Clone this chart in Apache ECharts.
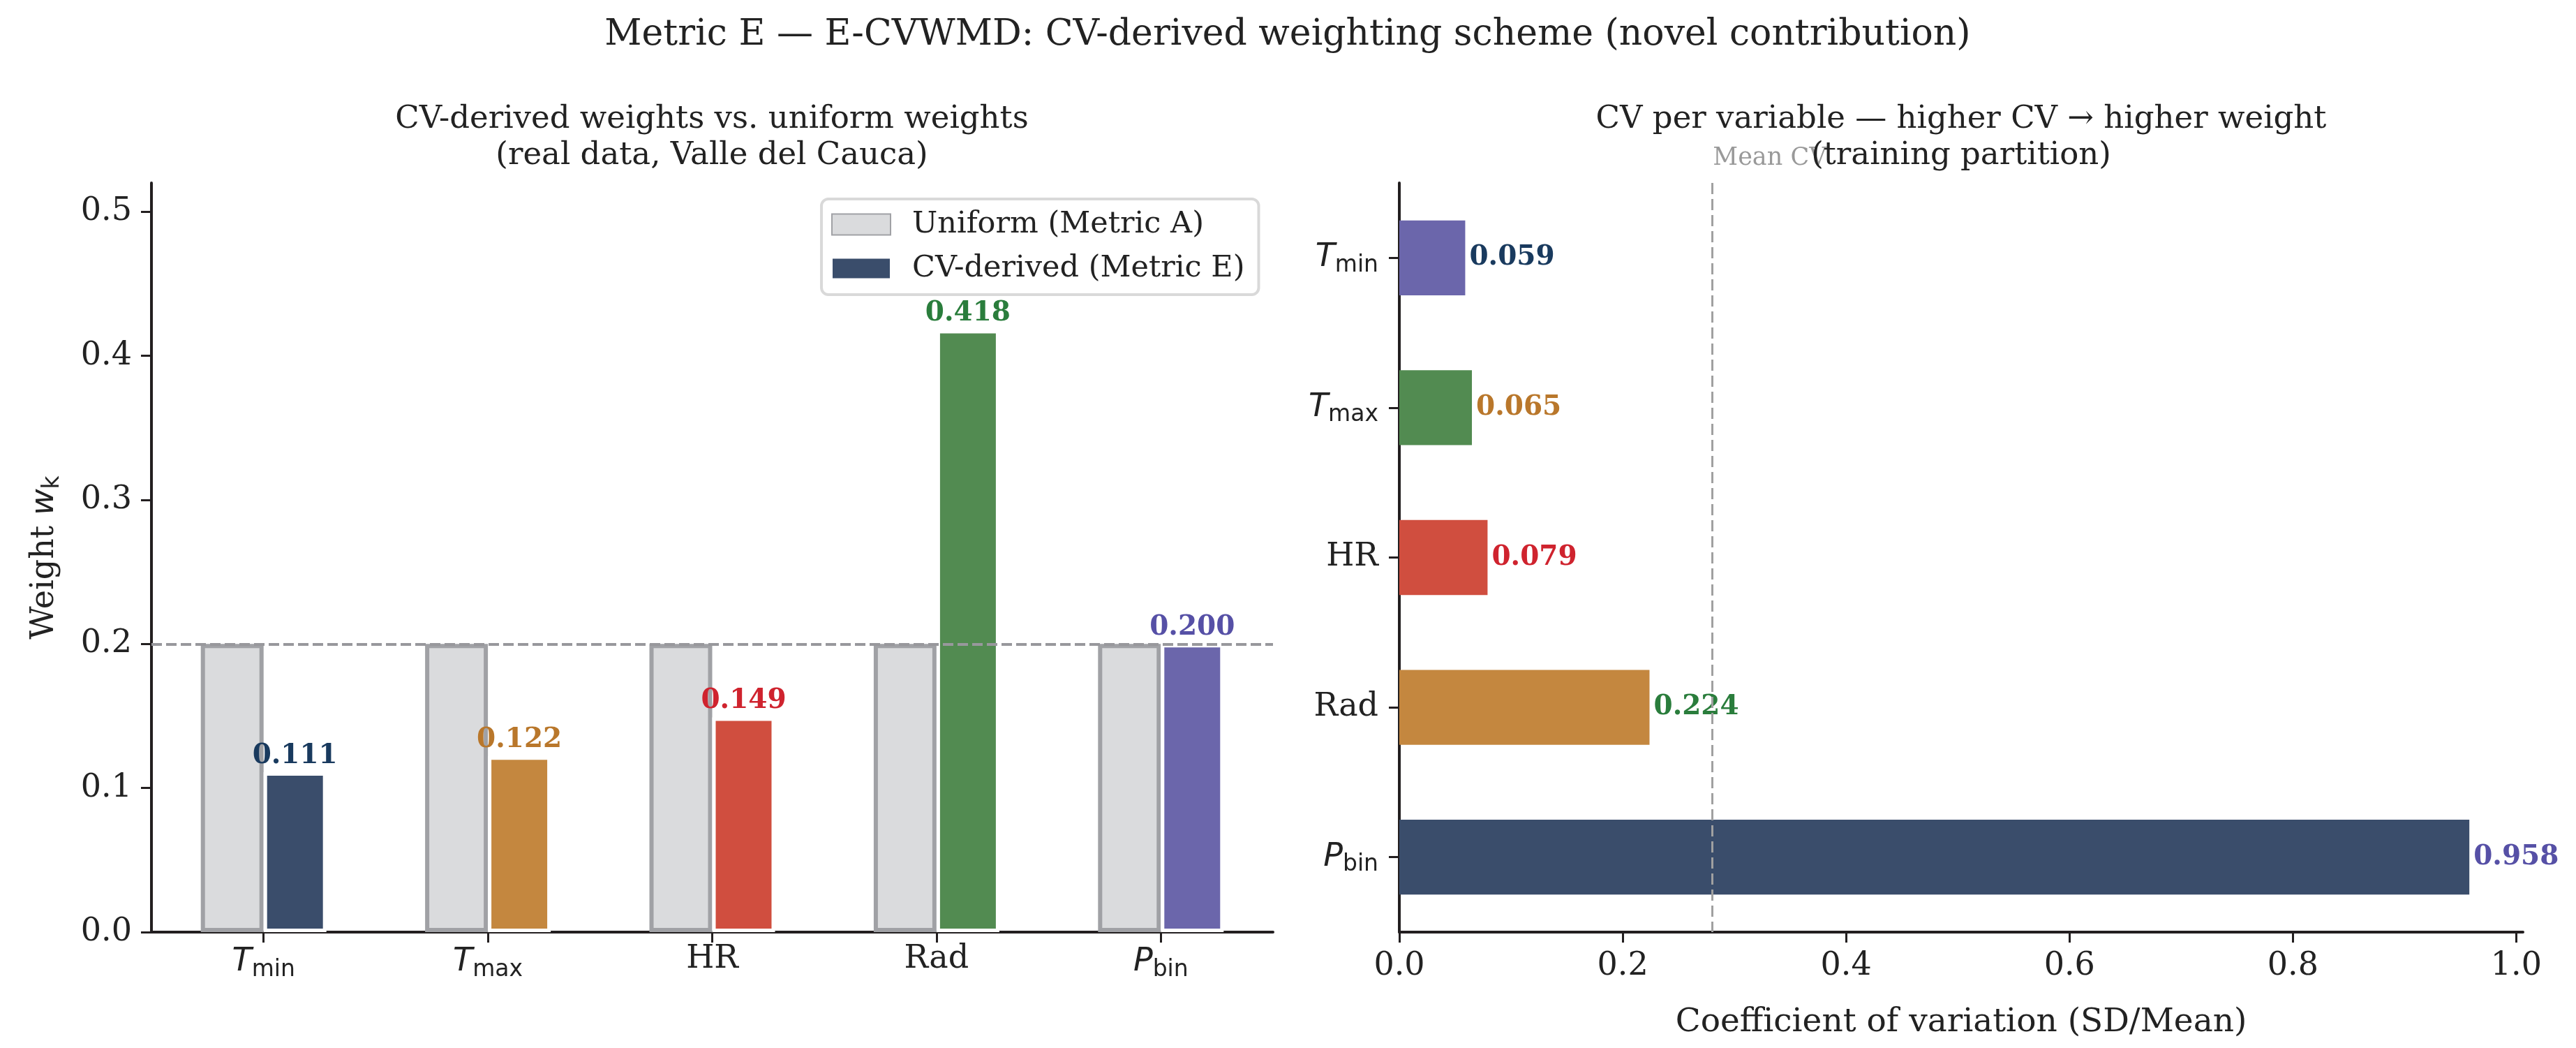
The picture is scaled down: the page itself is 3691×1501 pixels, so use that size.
<!DOCTYPE html>
<html>
<head>
<meta charset="utf-8">
<script src="https://cdn.jsdelivr.net/npm/echarts@6/dist/echarts.min.js"></script>
<style>
  html, body { margin: 0; padding: 0; background: #fff; }
  #chart { width: 3691px; height: 1501px; }
</style>
</head>
<body>
<div id="chart"></div>
<script>
// variables (T_min -> T with subscript min)
const categories = ['T_min', 'T_max', 'HR', 'Rad', 'P_bin'];
// left panel: weights
const uniformWeights = [0.2, 0.2, 0.2, 0.2, 0.2];
const cvWeights = [0.111, 0.122, 0.149, 0.418, 0.200];
const weightTicks = [0, 0.1, 0.2, 0.3, 0.4, 0.5];
const uniformLevel = 0.2;
// right panel: coefficient of variation
const cvValues = [0.059, 0.065, 0.079, 0.224, 0.958];
const cvTicks = [0, 0.2, 0.4, 0.6, 0.8, 1.0];

const weightBarColors = ['#3a4d6b', '#c4873f', '#d04e3f', '#528b51', '#6b66ab'];
const cvBarColors = ['#6b66ab', '#528b51', '#d04e3f', '#c4873f', '#3a4d6b'];
const valueLabelColors = ['#193a5e', '#b9772b', '#cf232e', '#2a7d3c', '#5650a6'];

const SERIF = '"DejaVu Serif", serif';
const SANS = '"DejaVu Sans", sans-serif';
const INK = '#222222';
const AXIS = '#231f20';

const meanCV = cvValues.reduce((a, b) => a + b, 0) / cvValues.length;

// rich text for the math-style variable names
const mathRich = {
  it: { fontFamily: SANS, fontStyle: 'italic', fontSize: 46, color: INK },
  sub: { fontFamily: SANS, fontSize: 33, color: INK, padding: [22, 0, 0, 0] },
  rm: { fontFamily: SERIF, fontSize: 46, color: INK }
};
function mathLabel(name) {
  const parts = name.split('_');
  if (parts.length === 2) return '{it|' + parts[0] + '}{sub|' + parts[1] + '}';
  return '{rm|' + name + '}';
}

const axisLineStyle = { show: true, lineStyle: { color: AXIS, width: 4 } };
const axisTickStyle = { show: true, length: 15, lineStyle: { color: AXIS, width: 3 } };
const tickFont = { fontFamily: SERIF, fontSize: 46, color: INK };

const chart = echarts.init(document.getElementById('chart'));

chart.setOption({
  backgroundColor: '#ffffff',
  animation: false,
  grid: [
    { left: 217, top: 262, width: 1607, height: 1073 },
    { left: 2005, top: 262, width: 1610, height: 1073 }
  ],
  legend: {
    data: ['Uniform (Metric A)', 'CV-derived (Metric E)'],
    orient: 'vertical',
    left: 1177,
    top: 285,
    icon: 'rect',
    itemWidth: 84,
    itemHeight: 30,
    itemGap: 20,
    padding: [15, 20, 16, 14],
    backgroundColor: '#ffffff',
    borderColor: '#d9d9d9',
    borderWidth: 4,
    borderRadius: 10,
    textStyle: { fontFamily: SERIF, fontSize: 43, color: INK, padding: [0, 0, 0, 26] }
  },
  xAxis: [
    {
      type: 'category',
      gridIndex: 0,
      data: categories,
      axisLine: axisLineStyle,
      axisTick: Object.assign({ alignWithLabel: true }, axisTickStyle),
      axisLabel: { margin: 16, formatter: mathLabel, rich: mathRich },
      splitLine: { show: false }
    },
    {
      type: 'value',
      gridIndex: 1,
      min: 0,
      max: 1.006,
      axisLine: axisLineStyle,
      axisTick: Object.assign({ customValues: cvTicks }, axisTickStyle),
      axisLabel: Object.assign({ margin: 26, customValues: cvTicks, formatter: v => v.toFixed(1) }, tickFont),
      splitLine: { show: false },
      name: 'Coefficient of variation (SD/Mean)',
      nameLocation: 'middle',
      nameGap: 106,
      nameTextStyle: { fontFamily: SERIF, fontSize: 47, color: INK }
    }
  ],
  yAxis: [
    {
      type: 'value',
      gridIndex: 0,
      min: 0,
      max: 0.52,
      axisLine: axisLineStyle,
      axisTick: Object.assign({ customValues: weightTicks }, axisTickStyle),
      axisLabel: Object.assign({ margin: 28, customValues: weightTicks, formatter: v => v.toFixed(1) }, tickFont),
      splitLine: { show: false },
      name: '{rm|Weight }{it|w}{sub|k}',
      nameLocation: 'middle',
      nameRotate: 90,
      nameGap: 125,
      nameTextStyle: { rich: mathRich }
    },
    {
      type: 'category',
      gridIndex: 1,
      inverse: true,
      data: categories,
      axisLine: axisLineStyle,
      axisTick: Object.assign({ alignWithLabel: true }, axisTickStyle),
      axisLabel: { margin: 30, formatter: mathLabel, rich: mathRich },
      splitLine: { show: false }
    }
  ],
  series: [
    {
      name: 'Uniform (Metric A)',
      type: 'bar',
      xAxisIndex: 0,
      yAxisIndex: 0,
      z: 1,
      data: uniformWeights,
      barWidth: '28%',
      barGap: '0%',
      itemStyle: { color: '#dadbdd', borderColor: '#a0a1a5', borderWidth: 6 },
      markLine: {
        silent: true,
        symbol: 'none',
        label: { show: false },
        lineStyle: { color: '#98989c', width: 4, type: [15, 6] },
        data: [{ yAxis: uniformLevel }]
      }
    },
    {
      name: 'CV-derived (Metric E)',
      type: 'bar',
      xAxisIndex: 0,
      yAxisIndex: 0,
      z: 3,
      barWidth: '28%',
      barGap: '0%',
      itemStyle: { color: weightBarColors[0], borderColor: '#ffffff', borderWidth: 5 },
      label: {
        show: true,
        position: 'top',
        distance: 4,
        fontFamily: SERIF,
        fontWeight: 'bold',
        fontSize: 39,
        formatter: p => p.value.toFixed(3)
      },
      data: cvWeights.map((v, i) => ({
        value: v,
        itemStyle: { color: weightBarColors[i] },
        label: { color: valueLabelColors[i] }
      }))
    },
    {
      name: 'CV',
      type: 'bar',
      xAxisIndex: 1,
      yAxisIndex: 1,
      barWidth: '50%',
      label: {
        show: true,
        position: 'right',
        distance: 6,
        fontFamily: SERIF,
        fontWeight: 'bold',
        fontSize: 39,
        formatter: p => p.value.toFixed(3)
      },
      data: cvValues.map((v, i) => ({
        value: v,
        itemStyle: { color: cvBarColors[i] },
        label: { color: valueLabelColors[i] }
      })),
      markLine: {
        silent: true,
        symbol: 'none',
        label: { show: false },
        lineStyle: { color: '#a0a0a0', width: 3, type: [16, 7] },
        data: [{ xAxis: meanCV }]
      }
    }
  ]
});

// titles and the mean-CV note
const meanX = chart.convertToPixel({ xAxisIndex: 1 }, meanCV);
chart.setOption({
  graphic: [
    {
      type: 'text', x: 1845, y: 50, z: 10,
      style: { text: 'Metric E — E-CVWMD: CV-derived weighting scheme (novel contribution)',
        font: '52px ' + SERIF, fill: INK, align: 'center', verticalAlign: 'middle' }
    },
    {
      type: 'text', x: meanX + 6, y: 244, z: 5,
      style: { text: 'Mean CV', font: '35px ' + SERIF, fill: '#999999', align: 'left', verticalAlign: 'bottom' }
    },
    {
      type: 'text', x: 1020, y: 197, z: 10,
      style: { text: 'CV-derived weights vs. uniform weights\n(real data, Valle del Cauca)',
        font: '45px ' + SERIF, lineHeight: 52, fill: INK, align: 'center', verticalAlign: 'middle' }
    },
    {
      type: 'text', x: 2810, y: 197, z: 10,
      style: { text: 'CV per variable — higher CV → higher weight\n(training partition)',
        font: '45px ' + SERIF, lineHeight: 52, fill: INK, align: 'center', verticalAlign: 'middle' }
    }
  ]
});

window.addEventListener('resize', () => chart.resize());
</script>
</body>
</html>
